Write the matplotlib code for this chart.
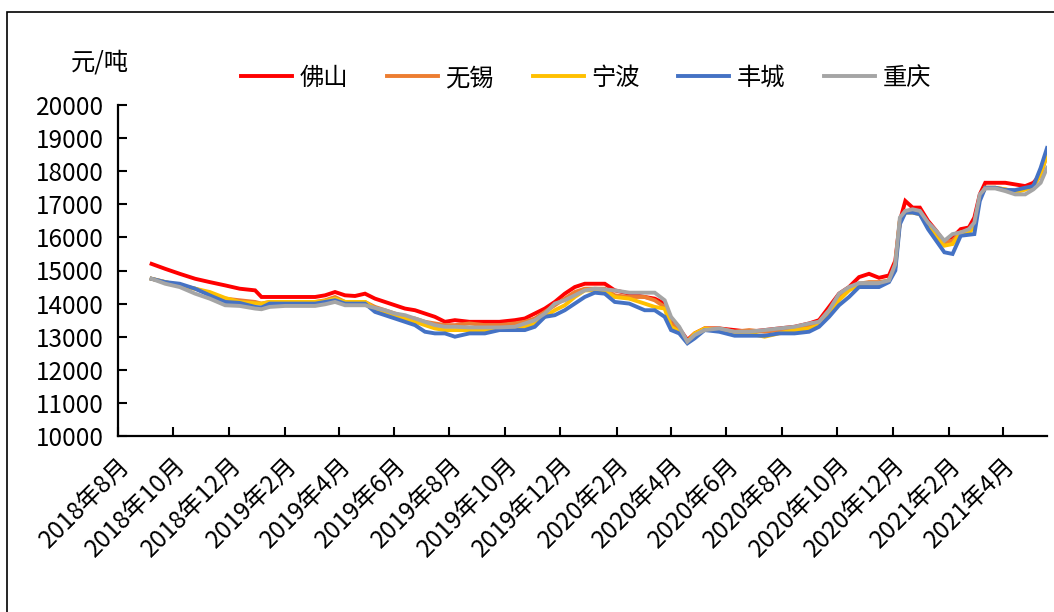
import matplotlib
matplotlib.use("Agg")
import matplotlib.pyplot as plt
from matplotlib.patches import Rectangle
import pandas as pd

plt.rcParams['font.family'] = ['Noto Sans CJK SC', 'DejaVu Sans']

dates = [
    "2018-09-07", "2018-09-22", "2018-10-08", "2018-10-25", "2018-11-10", "2018-11-27",
    "2018-12-13", "2018-12-30", "2019-01-06", "2019-01-15", "2019-02-01", "2019-02-17",
    "2019-03-06", "2019-03-17", "2019-03-28", "2019-04-08", "2019-04-19", "2019-04-30",
    "2019-05-11", "2019-05-22", "2019-06-02", "2019-06-13", "2019-06-24", "2019-07-05",
    "2019-07-16", "2019-07-27", "2019-08-07", "2019-08-23", "2019-09-09", "2019-09-25",
    "2019-10-12", "2019-10-23", "2019-11-03", "2019-11-14", "2019-11-25", "2019-12-06",
    "2019-12-17", "2019-12-28", "2020-01-08", "2020-01-19", "2020-01-30", "2020-02-15",
    "2020-03-03", "2020-03-14", "2020-03-25", "2020-04-01", "2020-04-10", "2020-04-19",
    "2020-04-27", "2020-05-08", "2020-05-24", "2020-06-10", "2020-06-26", "2020-07-13",
    "2020-07-29", "2020-08-15", "2020-08-31", "2020-09-11", "2020-09-22", "2020-10-03",
    "2020-10-14", "2020-10-25", "2020-11-05", "2020-11-16", "2020-11-27", "2020-12-04",
    "2020-12-09", "2020-12-15", "2020-12-23", "2020-12-31", "2021-01-09", "2021-01-18",
    "2021-01-27", "2021-02-05", "2021-02-14", "2021-02-23", "2021-03-01", "2021-03-07",
    "2021-03-13", "2021-03-24", "2021-04-04", "2021-04-15", "2021-04-26", "2021-05-05",
    "2021-05-13", "2021-05-20",
]

foshan = [
    15200, 15050, 14900, 14750, 14650, 14550, 14450, 14400, 14200, 14200, 14200, 14200,
    14200, 14250, 14350, 14250, 14230, 14300, 14150, 14050, 13950, 13850, 13800, 13700,
    13600, 13450, 13500, 13450, 13450, 13450, 13500, 13550, 13700, 13850, 14050, 14300,
    14500, 14600, 14600, 14600, 14400, 14300, 14200, 14150, 14000, 13500, 13250, 12900,
    13100, 13250, 13250, 13200, 13150, 13200, 13250, 13300, 13400, 13500, 13900, 14300,
    14500, 14800, 14900, 14780, 14850, 15300, 16500, 17100, 16900, 16900, 16500, 16200,
    15850, 16000, 16250, 16300, 16600, 17300, 17650, 17650, 17650, 17600, 17550, 17650,
    17900, 18600,
]

wuxi = [
    14750, 14650, 14550, 14450, 14300, 14150, 14100, 14050, 14000, 14050, 14050, 14050,
    14050, 14100, 14200, 14050, 14050, 14050, 13900, 13800, 13700, 13600, 13550, 13450,
    13400, 13350, 13350, 13400, 13350, 13350, 13400, 13450, 13550, 13750, 13950, 14150,
    14350, 14450, 14450, 14450, 14250, 14200, 14200, 14100, 13900, 13400, 13200, 12850,
    13050, 13250, 13250, 13150, 13200, 13150, 13200, 13250, 13350, 13450, 13800, 14200,
    14450, 14600, 14650, 14650, 14700, 15200, 16500, 16800, 16800, 16750, 16400, 16100,
    15850, 15900, 16150, 16200, 16400, 17200, 17500, 17500, 17450, 17400, 17450, 17550,
    17900, 18500,
]

ningbo = [
    14750, 14650, 14550, 14450, 14350, 14170, 14050, 14010, 14000, 14050, 14050, 14050,
    14050, 14080, 14150, 14050, 14050, 14050, 13850, 13750, 13650, 13550, 13450, 13350,
    13250, 13200, 13200, 13200, 13200, 13200, 13250, 13300, 13400, 13600, 13800, 13950,
    14200, 14400, 14400, 14400, 14200, 14150, 14000, 13900, 13850, 13300, 13150, 12850,
    13100, 13250, 13200, 13100, 13100, 13000, 13100, 13200, 13250, 13350, 13650, 14100,
    14400, 14550, 14600, 14600, 14700, 15100, 16500, 16750, 16750, 16700, 16350, 16000,
    15750, 15800, 16150, 16150, 16300, 17200, 17500, 17500, 17450, 17350, 17450, 17550,
    17900, 18500,
]

fengcheng = [
    14750, 14650, 14600, 14450, 14250, 14050, 14020, 13900, 13880, 14000, 14000, 14000,
    14000, 14050, 14100, 14000, 14000, 14000, 13750, 13650, 13550, 13450, 13350, 13150,
    13100, 13100, 13000, 13100, 13100, 13200, 13200, 13200, 13300, 13600, 13650, 13800,
    14000, 14200, 14330, 14300, 14050, 14000, 13800, 13800, 13600, 13200, 13100, 12800,
    12950, 13200, 13150, 13030, 13030, 13030, 13100, 13100, 13150, 13300, 13600, 13950,
    14200, 14500, 14500, 14500, 14650, 15000, 16400, 16750, 16750, 16700, 16250, 15900,
    15550, 15500, 16050, 16080, 16100, 17100, 17500, 17500, 17430, 17430, 17500, 17550,
    18100, 18700,
]

chongqing = [
    14750, 14600, 14500, 14300, 14150, 13950, 13930, 13850, 13830, 13900, 13930, 13930,
    13930, 13980, 14050, 13950, 13950, 13950, 13870, 13800, 13700, 13650, 13550, 13450,
    13350, 13300, 13300, 13280, 13280, 13280, 13300, 13400, 13500, 13700, 14000, 14100,
    14250, 14400, 14450, 14430, 14400, 14330, 14330, 14330, 14100, 13600, 13300, 12850,
    13050, 13200, 13250, 13150, 13150, 13200, 13250, 13300, 13400, 13450, 13800, 14300,
    14500, 14620, 14620, 14620, 14700, 15200, 16600, 16800, 16850, 16800, 16450, 16200,
    15900, 16100, 16150, 16250, 16450, 17300, 17480, 17480, 17400, 17300, 17300, 17450,
    17650, 18100,
]

series_names = ["佛山", "无锡", "宁波", "丰城", "重庆"]
series_colors = ["#FF0000", "#ED7D31", "#FFC000", "#4472C4", "#A5A5A5"]
series_values = [foshan, wuxi, ningbo, fengcheng, chongqing]

tick_labels = ["2018年8月", "2018年10月", "2018年12月", "2019年2月", "2019年4月", "2019年6月",
               "2019年8月", "2019年10月", "2019年12月", "2020年2月", "2020年4月", "2020年6月",
               "2020年8月", "2020年10月", "2020年12月", "2021年2月", "2021年4月"]
tick_dates = ["2018-08-01", "2018-10-01", "2018-12-01", "2019-02-01", "2019-04-01", "2019-06-01",
              "2019-08-01", "2019-10-01", "2019-12-01", "2020-02-01", "2020-04-01", "2020-06-01",
              "2020-08-01", "2020-10-01", "2020-12-01", "2021-02-01", "2021-04-01"]
y_ticks = [10000, 11000, 12000, 13000, 14000, 15000, 16000, 17000, 18000, 19000, 20000]

x = pd.to_datetime(dates)

fig = plt.figure(figsize=(10.54, 6.12), dpi=100)
ax = fig.add_axes([118 / 1054, 1 - 436 / 612, (1047 - 118) / 1054, (436 - 105) / 612])

handles = []
for name, col, vals in zip(series_names, series_colors, series_values):
    h, = ax.plot(x, vals, color=col, lw=2.8, label=name, solid_joinstyle='miter')
    handles.append(h)

ax.set_xlim(pd.Timestamp("2018-08-01"), pd.Timestamp("2021-05-20"))
ax.set_ylim(10000, 20000)
ax.set_yticks(y_ticks)
ax.set_yticklabels([str(v) for v in y_ticks])
ax.set_xticks(pd.to_datetime(tick_dates))
ax.set_xticklabels(tick_labels, rotation=45, ha='right', va='top', rotation_mode='anchor')

for s in ['top', 'right']:
    ax.spines[s].set_visible(False)
for s in ['left', 'bottom']:
    ax.spines[s].set_linewidth(1.6)
    ax.spines[s].set_color('black')
ax.tick_params(axis='both', direction='in', length=6.5, width=1.5, colors='black', labelsize=17.5)
ax.tick_params(axis='y', pad=10)
ax.tick_params(axis='x', pad=12)

fig.text(100 / 1054, 1 - 63 / 612, "元/吨", ha='center', va='center', fontsize=17.5)

fig.legend(handles=handles, loc='center', bbox_to_anchor=(586 / 1054, 1 - 78 / 612),
           ncol=5, frameon=False, fontsize=17.5, handlelength=2.1, handletextpad=0.3,
           columnspacing=1.6)

fig.patches.append(Rectangle((7 / 1054, -0.2), 1.2, 1.2 - 12 / 612, transform=fig.transFigure,
                             fill=False, edgecolor='black', lw=1.2))

fig.savefig("out.png", dpi=100)
